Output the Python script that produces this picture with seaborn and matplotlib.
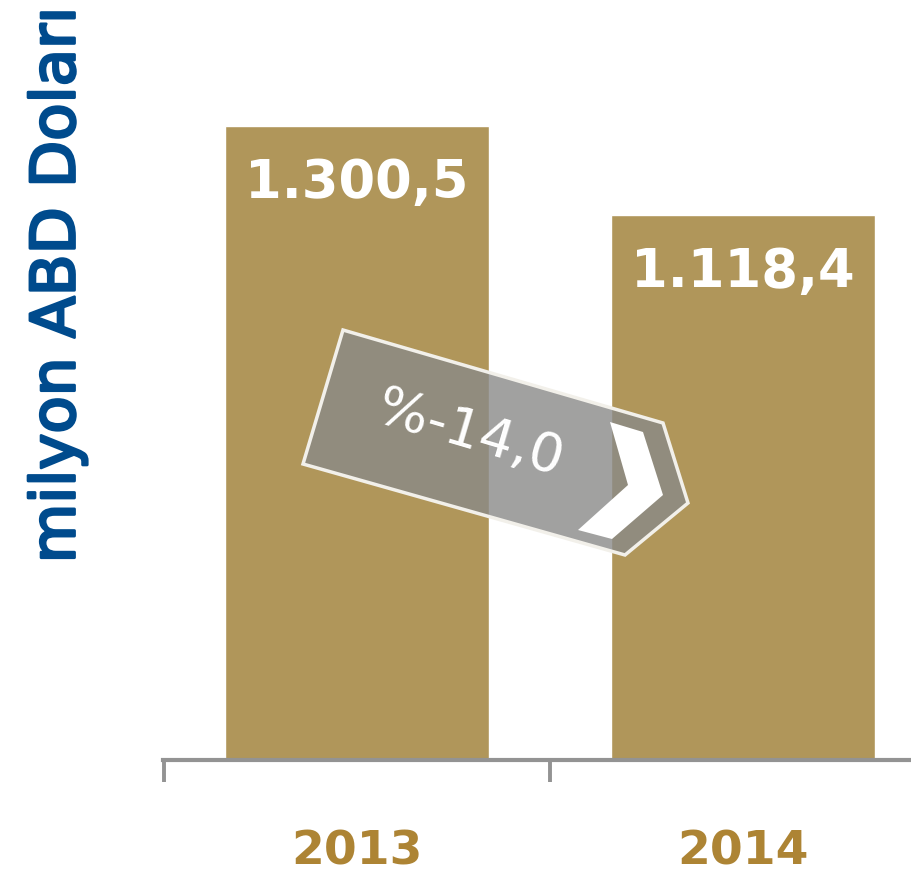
import matplotlib
matplotlib.use('Agg')
import matplotlib.pyplot as plt
from matplotlib.patches import Polygon
import matplotlib.patheffects as pe
import seaborn as sns
import pandas as pd

yillar = ['2013', '2014']
degerler = [1300.5, 1118.4]
etiketler = ['1.300,5', '1.118,4']
degisim = '%-14,0'
eksen_baslik = 'milyon ABD Doları'

bar_renk = '#B0965A'
yil_renk = '#AD8434'
mavi = '#004B8D'
gri = '#939393'

df = pd.DataFrame({'Yil': yillar, 'Deger': degerler})

sns.set_theme(style='white')
plt.rcParams['font.family'] = ['DejaVu Sans']

W, H = 912, 884
fig = plt.figure(figsize=(W / 100, H / 100), dpi=100)
ax = fig.add_axes([163 / W, (H - 760) / H, 1 - 163 / W, 760 / H])

sns.barplot(data=df, x='Yil', y='Deger', color=bar_renk, saturation=1,
            width=0.684, ax=ax)

for s in ['left', 'top', 'right']:
    ax.spines[s].set_visible(False)
ax.spines['bottom'].set_color(gri)
ax.spines['bottom'].set_linewidth(3)
ax.set_yticks([])
ax.set_xlabel('')
ax.set_ylabel('')

ax.set_xticks([-0.5, 0.5, 1.5], minor=True)
ax.tick_params(axis='x', which='minor', length=16, width=2.8, color=gri,
               direction='out', bottom=True)
ax.tick_params(axis='x', which='major', length=0, pad=50)
ax.set_xticks([0, 1])
ax.set_xticklabels(yillar, fontsize=34, fontweight='bold', color=yil_renk)

# eksen sınırları tick'lerden sonra (set_xticks sınırları genişletiyor)
ax.set_xlim(-0.503, 1.438)
ax.set_ylim(0, 1300.5 * 760 / 634)

for i, (v, e) in enumerate(zip(degerler, etiketler)):
    ax.text(i, v - 57 * 1300.5 / 634, e, ha='center', va='center',
            color='white', fontsize=38, fontweight='bold')

fig.text(58 / W, 1 - 285 / H, eksen_baslik, rotation=90, ha='center',
         va='center', color=mavi, fontsize=44,
         path_effects=[pe.withStroke(linewidth=2, foreground=mavi)])


def fp(pts):
    return [(x / W, 1 - y / H) for x, y in pts]


ok = [(343, 330), (663, 423), (688, 503), (625, 555), (303, 464)]
fig.add_artist(Polygon(fp(ok), closed=True, transform=fig.transFigure,
                       facecolor='#8a8a88', alpha=0.8, edgecolor='none',
                       zorder=5))
fig.add_artist(Polygon(fp(ok), closed=True, transform=fig.transFigure,
                       facecolor='none', edgecolor='#f2f0ea', linewidth=2.5,
                       zorder=6))
sevron = [(610, 422), (643, 432), (663, 495), (612, 539), (578, 530),
          (628, 485)]
fig.add_artist(Polygon(fp(sevron), closed=True, transform=fig.transFigure,
                       facecolor='white', edgecolor='none', zorder=7))

fig.text(470 / W, 1 - 434 / H, degisim, rotation=-16.5, ha='center',
         va='center', color='white', fontsize=39, zorder=8,
         rotation_mode='anchor')

fig.savefig('out.png', dpi=100)
